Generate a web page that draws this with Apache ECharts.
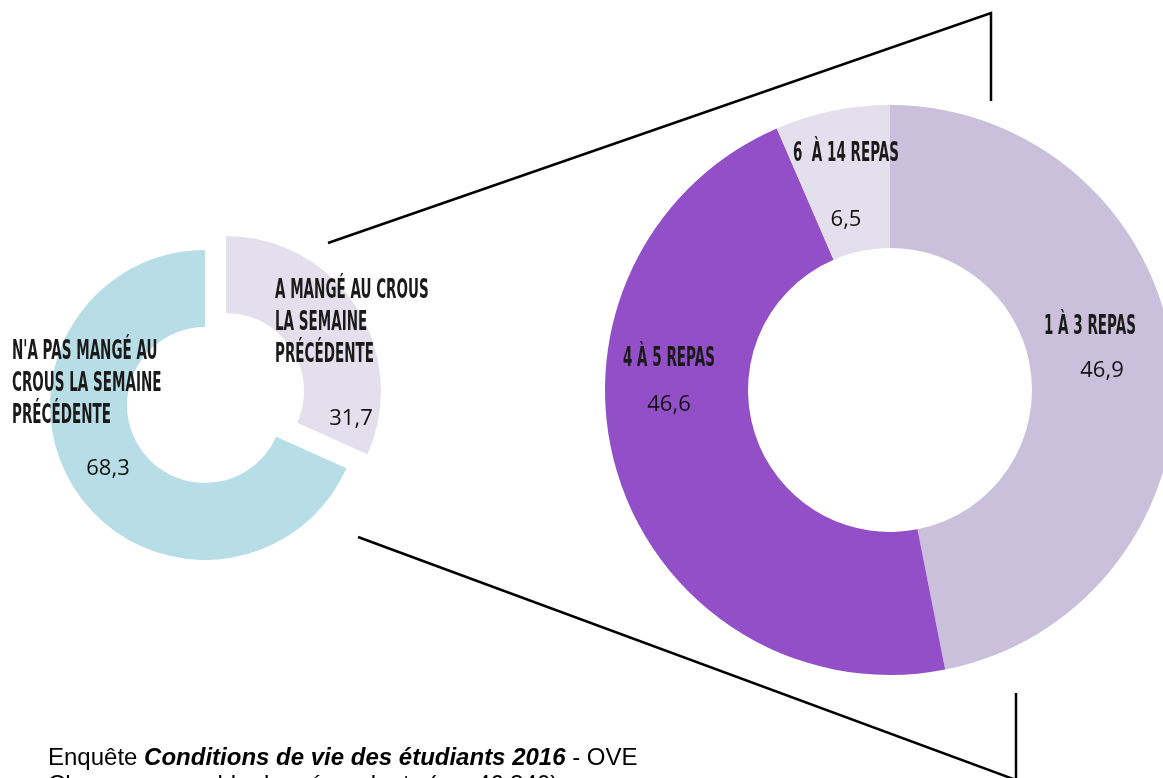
<!DOCTYPE html>
<html>
<head>
<meta charset="utf-8">
<script src="https://cdn.jsdelivr.net/npm/echarts@6/dist/echarts.min.js"></script>
<style>
  html, body { margin: 0; padding: 0; background: #fff; }
  #chart { width: 1163px; height: 778px; }
</style>
</head>
<body>
<div id="chart"></div>
<script>
// left donut : ate at the Crous last week ?
const crousNames = ['A MANGÉ AU CROUS\nLA SEMAINE\nPRÉCÉDENTE', "N'A PAS MANGÉ AU\nCROUS LA SEMAINE\nPRÉCÉDENTE"];
const crousValues = [31.7, 68.3];
const crousColors = ['#e4dfec', '#b7dde6'];

// right donut : number of meals
const mealNames = ['1 À 3 REPAS', '4 À 5 REPAS', '6  À 14 REPAS'];
const mealValues = [46.9, 46.6, 6.5];
const mealColors = ['#cac0db', '#934fc7', '#e4dfec'];

const sourceText = 'Enquête ';
const sourceBold = 'Conditions de vie des étudiants 2016';
const sourceEnd = ' - OVE';
const scopeText = 'Champ : ensemble des répondants (n = 46 340)';

// where the values and names sit
const crousValuePos = [[351, 419], [108, 469]];
const crousNamePos = [[275, 323], [12, 384]];
const mealValuePos = [[1102, 371], [669, 405], [846, 220]];
const mealNamePos = [[1044, 327], [623, 359], [793, 154]];

const chart = echarts.init(document.getElementById('chart'));

function fmt(v) {
  return v.toFixed(1).replace('.', ',');
}

function nameText(text, pos) {
  return {
    type: 'text',
    x: pos[0],
    y: pos[1],
    z: 100,
    scaleX: 0.52,
    silent: true,
    style: {
      text: text,
      font: 'bold 26px "DejaVu Sans"',
      fill: '#1a1a1a',
      lineHeight: 32,
      align: 'left',
      verticalAlign: 'middle'
    }
  };
}

const graphics = [
  {
    type: 'polyline',
    silent: true,
    shape: { points: [[328, 243], [991, 13], [991, 101]] },
    style: { stroke: '#000', lineWidth: 2.5, fill: null }
  },
  {
    type: 'polyline',
    silent: true,
    shape: { points: [[358, 537], [1016, 780]] },
    style: { stroke: '#000', lineWidth: 2.5, fill: null }
  },
  {
    type: 'line',
    silent: true,
    shape: { x1: 1016, y1: 693, x2: 1016, y2: 780 },
    style: { stroke: '#000', lineWidth: 2.5 }
  },
  {
    type: 'text',
    x: 48,
    y: 770,
    silent: true,
    style: {
      text: '{a|' + sourceText + '}{b|' + sourceBold + '}{a|' + sourceEnd + '}',
      verticalAlign: 'bottom',
      rich: {
        a: { font: '24px "Liberation Sans"', fill: '#000' },
        b: { font: 'italic bold 24px "Liberation Sans"', fill: '#000' }
      }
    }
  },
  {
    type: 'text',
    x: 48,
    y: 797,
    silent: true,
    style: {
      text: scopeText,
      font: '24px "Liberation Sans"',
      fill: '#000',
      verticalAlign: 'bottom'
    }
  }
];
crousNames.forEach((n, i) => graphics.push(nameText(n, crousNamePos[i])));
mealNames.forEach((n, i) => graphics.push(nameText(n, mealNamePos[i])));

// one donut ring; only the slices listed in "shown" are painted
function ring(center, radius, names, values, colors, shown, valuePos) {
  return {
    type: 'pie',
    center: center,
    radius: radius,
    startAngle: 90,
    clockwise: true,
    emphasis: { disabled: true },
    label: {
      show: true,
      position: 'inside',
      formatter: p => fmt(p.value),
      color: '#111',
      fontFamily: 'Open Sans',
      fontSize: 22
    },
    labelLine: { show: false },
    labelLayout: p => ({ x: valuePos[p.dataIndex][0], y: valuePos[p.dataIndex][1], align: 'center', verticalAlign: 'middle' }),
    data: values.map((v, i) => ({
      name: names[i],
      value: v,
      itemStyle: { color: shown.includes(i) ? colors[i] : 'rgba(0,0,0,0)' },
      label: { show: shown.includes(i) }
    }))
  };
}

const option = {
  animation: false,
  backgroundColor: '#fff',
  graphic: graphics,
  series: [
    // the "no" slice stays in place
    ring([205, 405], [78, 155], crousNames, crousValues, crousColors, [1], crousValuePos),
    // the "yes" slice is pulled out towards the zoom
    ring([226, 391], [78, 155], crousNames, crousValues, crousColors, [0], crousValuePos),
    ring([890, 390], [142, 285], mealNames, mealValues, mealColors, [0, 1, 2], mealValuePos)
  ]
};
chart.setOption(option);
</script>
</body>
</html>
